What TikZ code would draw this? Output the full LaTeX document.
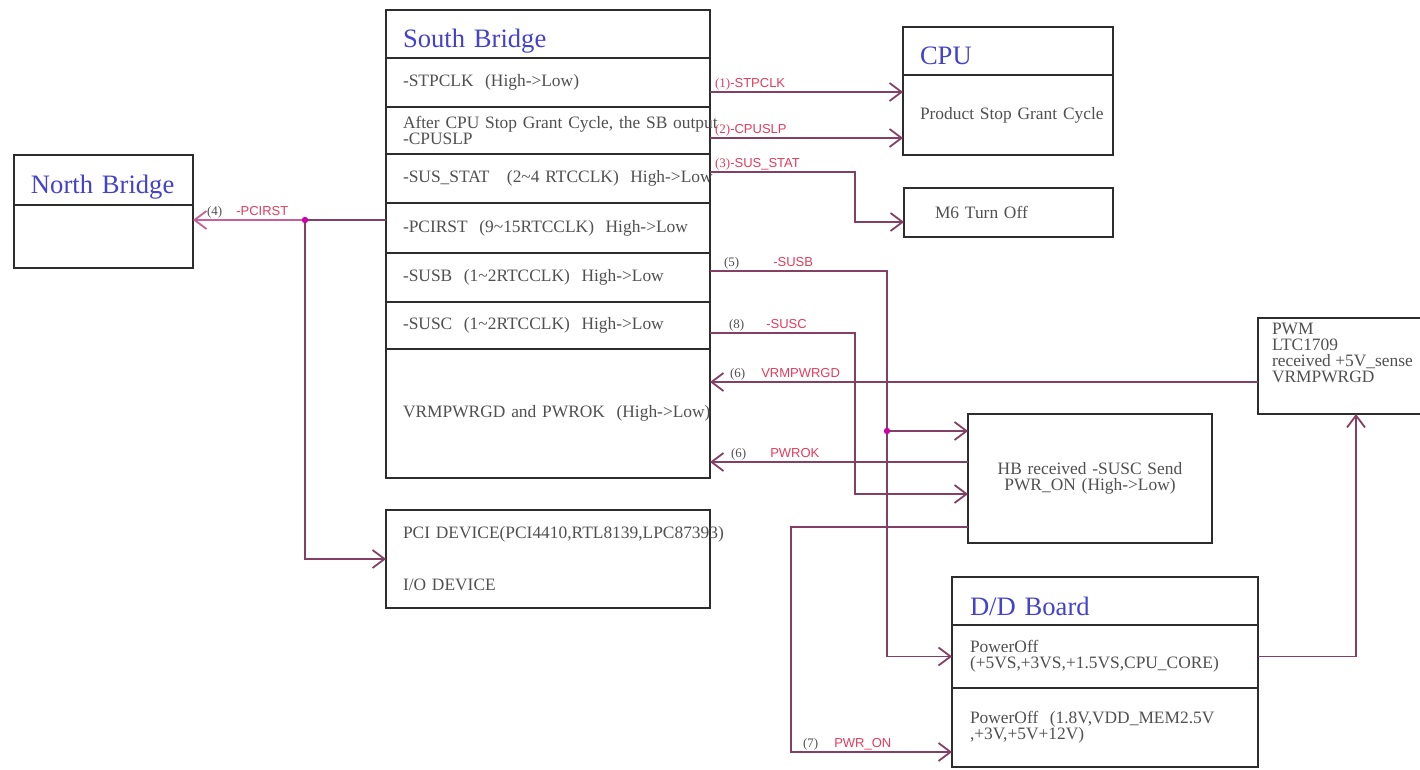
\documentclass[tikz,border=0pt]{standalone}
\usepackage{fontspec}
\setmainfont{Liberation Serif}
\newfontfamily\signalfont{Liberation Sans}
\usetikzlibrary{arrows.meta,positioning,shapes}
\definecolor{titleblue}{RGB}{66,66,205}
\definecolor{boxline}{RGB}{45,45,45}
\definecolor{bodytext}{RGB}{80,80,80}
\definecolor{wirecol}{RGB}{132,64,100}
\definecolor{rstcol}{RGB}{200,96,152}
\definecolor{signal}{RGB}{228,60,92}
\definecolor{junction}{RGB}{205,0,170}
\newcommand{\signo}[1]{\textcolor{bodytext}{\rmfamily(#1)}}

\begin{document}
\begin{tikzpicture}[
    x=0.5pt, y=-0.5pt,
    block/.style={rectangle, draw=boxline, line width=1pt, fill=white, outer sep=0pt, inner ysep=0pt},
    blocktitle/.style={block, inner xsep=8.5pt, align=left, minimum height=24pt, text height=17pt, text depth=3pt, text=titleblue, font=\fontsize{13.3}{15}\selectfont},
    blockrow/.style={block, inner xsep=8.5pt, align=left, text=bodytext, font=\fontsize{8.7}{10}\selectfont},
    tight/.style={font={\fontsize{8.7}{#1}\selectfont\lineskiplimit=-20pt}},
    conn/.style={draw=wirecol, line width=0.9pt, ->, >={Straight Barb[length=6pt,width=9pt]}},
    sig/.style={anchor=south west, inner sep=0.6pt, xshift=1.5pt, text=signal, font=\signalfont\fontsize{6.5}{7}\selectfont}
]
    \useasboundingbox[fill=white] (0,0) rectangle (1420,770);

    % south bridge
    \node[blocktitle, text width=145pt, anchor=north west] (sb) at (386,10) {South Bridge};
    \node[blockrow, text width=145pt, minimum height=24.5pt, below=0pt of sb] (stpclk) {-STPCLK\ \ (High->Low)};
    \node[blockrow, tight=8pt, text width=145pt, minimum height=23.5pt, below=0pt of stpclk] (cpuslp) {\mbox{After CPU Stop Grant Cycle, the SB output}\\-CPUSLP};
    \node[blockrow, text width=145pt, minimum height=24.5pt, below=0pt of cpuslp] (susstat) {\mbox{-SUS\_STAT\ \ \ (2\textasciitilde4 RTCCLK)\ \ High->Low}};
    \node[blockrow, text width=145pt, minimum height=25pt, below=0pt of susstat] (pcirst) {\mbox{-PCIRST\ \ (9\textasciitilde15RTCCLK)\ \ High->Low}};
    \node[blockrow, text width=145pt, minimum height=24.5pt, below=0pt of pcirst] (susb) {-SUSB\ \ (1\textasciitilde2RTCCLK)\ \ High->Low};
    \node[blockrow, text width=145pt, minimum height=23.5pt, below=0pt of susb] (susc) {-SUSC\ \ (1\textasciitilde2RTCCLK)\ \ High->Low};
    \node[blockrow, text width=145pt, minimum height=64.5pt, below=0pt of susc] (vrm) {\mbox{VRMPWRGD and PWROK\ \ (High->Low)}};

    % other blocks
    \node[blocktitle, text width=72.5pt, minimum height=25pt, anchor=north west] (nb) at (14,155) {\mbox{North Bridge}};
    \node[block, text width=72.5pt, inner xsep=8.5pt, minimum height=31.5pt, below=0pt of nb] (nbbody) {};

    \node[blocktitle, text width=88pt, anchor=north west] (cpu) at (903,27) {CPU};
    \node[blockrow, text width=88pt, minimum height=40pt, below=0pt of cpu] (cpubody) {\mbox{Product Stop Grant Cycle}};
    \node[blockrow, text width=73.5pt, inner xsep=15.5pt, minimum height=24.5pt, anchor=north west] (m6) at (904,188) {M6 Turn Off};

    \node[block, minimum width=98pt, minimum height=48pt, anchor=north west] (pwm) at (1258,318) {};
    \node[blockrow, tight=8pt, draw=none, fill=none, inner sep=0pt, below right=2.5pt and 7pt of pwm.north west] (pwmtext) {PWM\\LTC1709\\received +5V\_sense\\VRMPWRGD};

    \node[blockrow, tight=8pt, align=center, text width=105pt, minimum height=64.5pt, anchor=north west] (hb) at (968,414) {HB received -SUSC Send\\PWR\_ON (High->Low)};

    \node[blocktitle, text width=135pt, inner xsep=9pt, anchor=north west] (dd) at (952,577) {D/D Board};
    \node[blockrow, tight=8pt, text width=135pt, inner xsep=9pt, minimum height=31.5pt, below=0pt of dd] (ddoff1) {PowerOff\\(+5VS,+3VS,+1.5VS,CPU\_CORE)};
    \node[blockrow, tight=8pt, text width=135pt, inner xsep=9pt, minimum height=39.5pt, below=0pt of ddoff1] (ddoff2) {PowerOff\ \ (1.8V,VDD\_MEM2.5V\\,+3V,+5V+12V)};

    \node[blockrow, text width=145pt, minimum height=49pt, anchor=north west] (pci) at (386,510) {\mbox{PCI DEVICE(PCI4410,RTL8139,LPC87393)}\\[16pt]I/O DEVICE};

    % signals
    \draw[conn] ([yshift=-4.75pt]stpclk.east) coordinate (w1) -- node[sig, pos=0] {\rmfamily(1)\signalfont-STPCLK} (w1 -| cpubody.west);
    \draw[conn] ([yshift=-3.75pt]cpuslp.east) coordinate (w2) -- node[sig, pos=0] {\rmfamily(2)\signalfont-CPUSLP} (w2 -| cpubody.west);
    \draw[conn] ([yshift=3.25pt]susstat.east) -- node[sig, pos=0] {\rmfamily(3)\signalfont-SUS\_STAT} ++(72.5pt,0) |- ([yshift=-4.75pt]m6.west);

    \draw[conn, draw=rstcol] ([yshift=4pt]pcirst.west) coordinate (w4) -- node[sig, pos=1, xshift=4.5pt] {\signo{4}\hspace{7pt}-PCIRST} (w4 -| nbbody.east);
    \draw[conn] (w4) -- ++(-40.5pt,0) coordinate (j4) |- (pci.west);
    \fill[junction] (j4) circle (1.6pt);

    \draw[conn] ([yshift=3.25pt]susb.east) -- node[sig, pos=0, xshift=4.5pt] {\signo{5}\hspace{17pt}-SUSB} ++(88.5pt,0) coordinate (c5) |- (ddoff1.west);
    \coordinate (hbin) at ([yshift=23.75pt]hb.west);
    \draw[conn] (c5 |- hbin) -- (hbin);
    \fill[junction] (c5 |- hbin) circle (1.6pt);

    \draw[conn] ([yshift=-3.75pt]susc.east) -- node[sig, pos=0, xshift=7pt] {\signo{8}\hspace{11pt}-SUSC} ++(72.5pt,0) |- ([yshift=-7.75pt]hb.west);

    \draw[conn] ([yshift=-8pt]pwm.west) coordinate (w6) -- node[sig, pos=1, xshift=7.5pt] {\signo{6}\hspace{8pt}VRMPWRGD} (w6 -| vrm.east);
    \draw[conn] ([yshift=8.25pt]hb.west) coordinate (w9) -- node[sig, pos=1, xshift=8pt] {\signo{6}\hspace{12pt}PWROK} (w9 -| vrm.east);

    \draw[conn] ([yshift=-24.25pt]hb.west) -- ++(-88.5pt,0) |- node[sig, pos=0.5, xshift=3.5pt] {\signo{7}\hspace{8pt}PWR\_ON} ([yshift=-12.25pt]ddoff2.west);
    \draw[conn] (ddoff1.east) -| (pwm.south);
\end{tikzpicture}
\end{document}
